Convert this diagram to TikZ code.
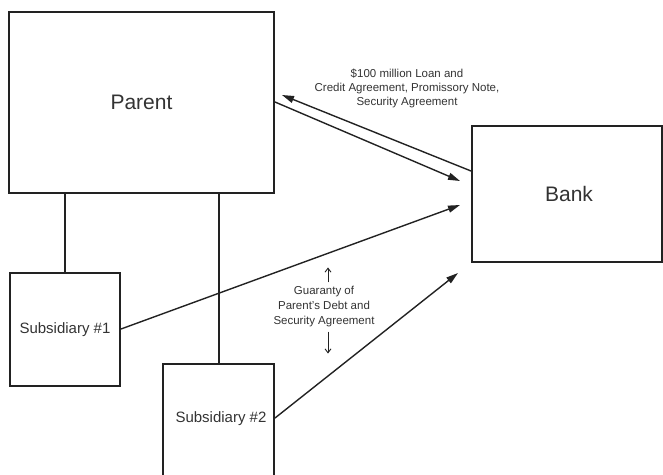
\documentclass[tikz,border=0pt]{standalone}
\usepackage{fontspec}
\setmainfont{Liberation Sans}
\usetikzlibrary{arrows.meta,calc}
\definecolor{ink}{HTML}{222222}
\definecolor{txt}{HTML}{333333}
\begin{document}
\begin{tikzpicture}[x=1pt,y=-1pt,
  box/.style={draw=ink,line width=2pt,text=txt,inner sep=0pt},
  link/.style={draw=ink,line width=2pt},
  flow/.style={draw=ink,line width=1.4pt,-{Triangle[length=12pt,width=7pt]}},
  small/.style={-{Straight Barb[length=4pt,width=6pt]},draw=ink,line width=0.9pt},
  note/.style={text=txt,font=\fontsize{11.5}{14}\selectfont,align=center,inner sep=0pt}]
\useasboundingbox (0,0) rectangle (663,474);
\clip (0,0) rectangle (663,474);
% entities
\node[box,minimum width=265pt,minimum height=181pt,font=\fontsize{21}{24}\selectfont] (Parent) at (141.5,102.5) {Parent};
\node[box,minimum width=190pt,minimum height=136pt,font=\fontsize{21}{24}\selectfont] (Bank) at (567,194) {\hspace*{4pt}Bank};
\node[box,minimum width=110pt,minimum height=113pt,font=\fontsize{15}{18}\selectfont] (Sub1) at (65,329.5) {Subsidiary \#1};
\node[box,minimum width=111pt,minimum height=113pt,font=\fontsize{15}{18}\selectfont,anchor=north] (Sub2) at (218.5,363) {};
\node[text=txt,font=\fontsize{15}{18}\selectfont] (Sub2label) at (221,419) {Subsidiary \#2};
% ownership links
\draw[link] (Parent.south -| Sub1.north) -- (Sub1.north);
\draw[link] (Parent.south -| Sub2.north) -- (Sub2.north);
% loan flows
\coordinate (bankA) at ($(Bank.north west)+(0,46)$);
\coordinate (parA) at ($(Parent.north east)+(7,84)$);
\coordinate (parB) at ($(Parent.north east)+(0,91)$);
\coordinate (bankB) at ($(Bank.north west)+(-11,56)$);
\coordinate (bankC) at ($(Bank.north west)+(-11,80)$);
\coordinate (bankD) at ($(Bank.north west)+(-13,148)$);
\coordinate (sub1A) at ($(Sub1.north east)+(0,57)$);
\coordinate (sub2A) at ($(Sub2.north east)+(0,55)$);
\draw[flow] (bankA) -- (parA);
\draw[flow] (parB) -- (bankB);
\draw[flow] (sub1A) -- (bankC);
\draw[flow] (sub2A) -- (bankD);
% labels
\node[note] (loan) at (407,88) {\$100 million Loan and\\Credit Agreement, Promissory Note,\\Security Agreement};
\node[note,font=\fontsize{11.5}{15}\selectfont] (guar) at (324,307) {Guaranty of\\Parent's Debt and\\Security Agreement};
\coordinate (guarUp) at ($(guar.north)+(4,-4)$);
\coordinate (guarDown) at ($(guar.south)+(4,4)$);
\draw[small] (guarUp) -- ++(0,-15);
\draw[small] (guarDown) -- ++(0,22);
\end{tikzpicture}
\end{document}
